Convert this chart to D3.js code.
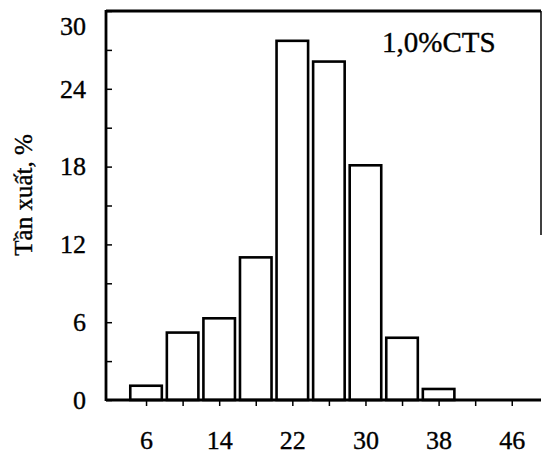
<!DOCTYPE html>
<html><head><meta charset="utf-8">
<script src="https://cdn.jsdelivr.net/npm/d3@7"></script>
<style>
body{margin:0;background:#fff;}
svg{display:block;}
text{font-family:"Liberation Serif","Times New Roman",serif;fill:#000;stroke:#000;stroke-width:0.35px;}
</style></head>
<body>
<svg id="c" width="543" height="454"></svg>
<script>
// Data
const binCenters = [6, 10, 14, 18, 22, 26, 30, 34, 38];
const frequencies = [1.1, 5.2, 6.3, 11.0, 27.7, 26.1, 18.1, 4.8, 0.85];
const xTickValues = [6, 10, 14, 18, 22, 26, 30, 34, 38, 42, 46];
const xTickLabels = [6, 14, 22, 30, 38, 46];
const yTickValues = [0, 3, 6, 9, 12, 15, 18, 21, 24, 27, 30];
const yTickLabels = [0, 6, 12, 18, 24, 30];
const yTitle = "Tần xuất, %";
const annotation = "1,0%CTS";
const binWidth = 3.45;

const svg = d3.select("#c");
const L = 106, R = 541, T = 11, B = 400;
const x = d3.scaleLinear().domain([1.62, 49.2]).range([L, R]);
const y = d3.scaleLinear().domain([0, 30]).range([B, T]);

// bars
svg.append("g").selectAll("rect").data(binCenters).join("rect")
  .attr("x", (d) => x(d - binWidth / 2))
  .attr("width", (d) => x(d + binWidth / 2) - x(d - binWidth / 2))
  .attr("y", (d, i) => y(frequencies[i]))
  .attr("height", (d, i) => y(0) - y(frequencies[i]))
  .attr("fill", "#fff").attr("stroke", "#000").attr("stroke-width", 2.6);

// y axis
const ya = svg.append("g").attr("transform", `translate(${L},0)`)
  .call(d3.axisLeft(y).tickValues(yTickValues).tickSize(-6).tickPadding(20)
    .tickFormat(d => yTickLabels.includes(d) ? String(d) : ""));
ya.select(".domain").remove();
ya.selectAll("line").attr("stroke", "#000").attr("stroke-width", 1.5);
ya.selectAll("text").attr("font-size", 26).attr("font-family", "Liberation Serif")
  .attr("dy", d => d === 30 ? "0.9em" : "0.32em");

// x axis
const xa = svg.append("g").attr("transform", `translate(0,${B})`)
  .call(d3.axisBottom(x).tickValues(xTickValues).tickSize(6).tickPadding(25)
    .tickFormat(d => xTickLabels.includes(d) ? String(d) : ""));
xa.select(".domain").remove();
xa.selectAll("line").attr("stroke", "#000").attr("stroke-width", 1.5);
xa.selectAll("text").attr("font-size", 26).attr("font-family", "Liberation Serif");

// frame
const fr = svg.append("g").attr("stroke", "#000").attr("stroke-width", 2.8).attr("fill", "none");
fr.append("line").attr("x1", L).attr("x2", L).attr("y1", T - 1).attr("y2", B + 1);
fr.append("line").attr("x1", L).attr("x2", R).attr("y1", B).attr("y2", B);
fr.append("line").attr("x1", L).attr("x2", R).attr("y1", T).attr("y2", T);
fr.append("line").attr("x1", R).attr("x2", R).attr("y1", T).attr("y2", 235).attr("stroke-width", 1.5);

// annotation
svg.append("text").attr("x", 382).attr("y", 52).attr("font-size", 29).text(annotation);

// y title
svg.append("text").attr("transform", "translate(32,195) rotate(-90)")
  .attr("text-anchor", "middle").attr("font-size", 25).text(yTitle);
</script>
</body></html>
